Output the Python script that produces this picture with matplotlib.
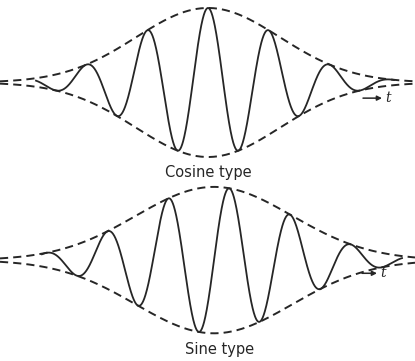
import numpy as np
import matplotlib
matplotlib.use("Agg")
import matplotlib.pyplot as plt

# wave packet parameters (time in arbitrary units, amplitude normalised to 1)
panel_names = ["Cosine type", "Sine type"]
carrier_kind = ["cos", "sin"]
envelope_width = [72.0, 78.0]      # gaussian sigma
carrier_period = [61.0, 61.0]
t_limits = [(-208.0, 207.0), (-214.0, 201.0)]
wave_span = [(-172.0, 186.0), (-172.0, 188.0)]
arrow_span = [(155.0, 174.0), (148.0, 163.0)]
arrow_level = [-0.21, -0.18]

INK = "#262626"


def packet(kind, t, sigma, period):
    env = np.exp(-t**2 / (2.0 * sigma**2))
    phase = 2.0 * np.pi * t / period
    carrier = np.cos(phase) if kind == "cos" else np.sin(phase)
    return env, env * carrier


fig = plt.figure(figsize=(4.15, 3.61), dpi=100)
fig.patch.set_facecolor("white")

# axes boxes in figure fractions: [left, bottom, width, height]
boxes = [[0.0, 0.543, 1.0, 0.457], [0.0, 0.055, 1.0, 0.449]]
label_pos = [(0.501, 0.521), (0.530, 0.031)]

for i, name in enumerate(panel_names):
    ax = fig.add_axes(boxes[i])
    ax.set_axis_off()
    ax.patch.set_alpha(0)
    t0, t1 = t_limits[i]
    ax.set_xlim(t0, t1)
    ax.set_ylim(-1.107, 1.107)

    t_env = np.linspace(t0, t1, 800)
    env, _ = packet(carrier_kind[i], t_env, envelope_width[i], carrier_period[i])
    for sign in (1, -1):
        ax.plot(t_env, sign * env, color=INK, lw=1.4,
                linestyle=(0, (4.2, 2.6)), solid_capstyle="butt")

    w0, w1 = wave_span[i]
    t_wave = np.linspace(w0, w1, 1500)
    _, wave = packet(carrier_kind[i], t_wave, envelope_width[i], carrier_period[i])
    ax.plot(t_wave, wave, color=INK, lw=1.3)

    a0, a1 = arrow_span[i]
    ax.annotate("", xy=(a1, arrow_level[i]), xytext=(a0, arrow_level[i]),
                arrowprops=dict(arrowstyle="-|>", color=INK, lw=1.1,
                                mutation_scale=7, shrinkA=0, shrinkB=0))
    ax.text(a1 + 3, arrow_level[i], "t", fontsize=10, fontstyle="italic",
            family="DejaVu Serif", color=INK, va="center", ha="left")

    fig.text(label_pos[i][0], label_pos[i][1], name, fontsize=10.5,
             color=INK, ha="center", va="center")

fig.savefig("out.png", dpi=100, facecolor="white")
